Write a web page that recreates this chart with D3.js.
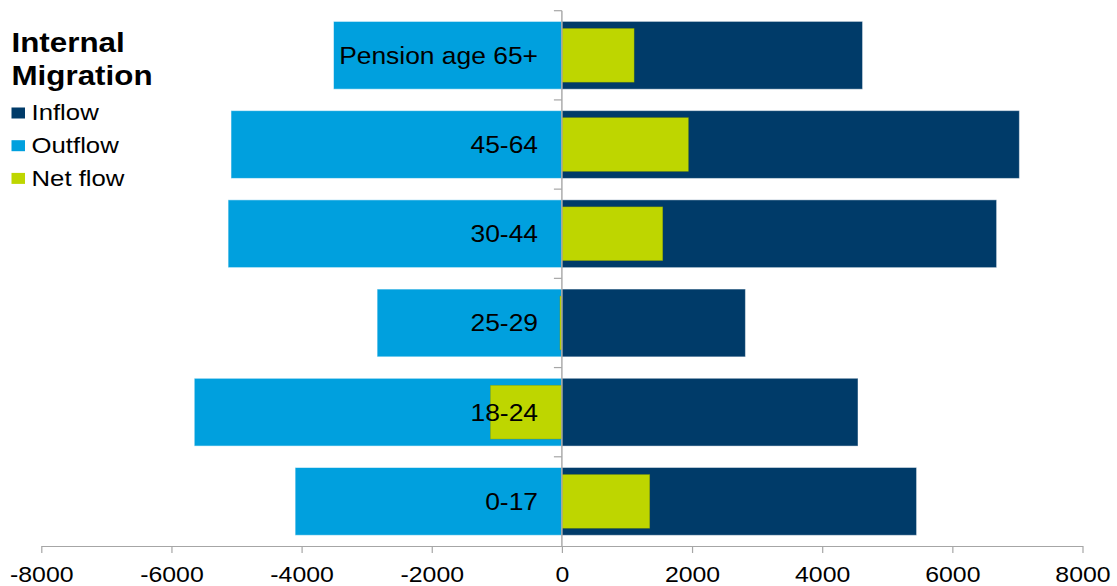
<!DOCTYPE html>
<html>
<head>
<meta charset="utf-8">
<script src="https://cdn.jsdelivr.net/npm/d3@7"></script>
<style>
  html, body { margin: 0; padding: 0; background: #fff; }
  svg { display: block; font-family: "Liberation Sans", Arial, sans-serif; }
</style>
</head>
<body>
<svg id="chart" width="1117" height="586"></svg>
<script>
// ---- Data ----
const categories = ["Pension age 65+", "45-64", "30-44", "25-29", "18-24", "0-17"];
const inflow  = [4620, 7030, 6680, 2820, 4550, 5450];
const outflow = [-3510, -5085, -5130, -2840, -5650, -4100];
const netflow = [1110, 1945, 1550, -30, -1100, 1350];
const xTicks = [-8000, -6000, -4000, -2000, 0, 2000, 4000, 6000, 8000];
const legendTitle = ["Internal", "Migration"];
const seriesNames = ["Inflow", "Outflow", "Net flow"];

const colors = { inflow: "#003B69", outflow: "#00A0DE", net: "#BED600" };
const axisColor = "#A6A6A6";

const svg = d3.select("#chart");

const x = d3.scaleLinear().domain([-8000, 8000]).range([41.3, 1082.5]);
const y = d3.scaleBand().domain(categories).range([10.7, 546])
  .paddingInner(0.24).paddingOuter(0.12);

const rows = categories.map((c, i) => ({ c, inflow: inflow[i], outflow: outflow[i], net: netflow[i] }));

function barX(v) { return Math.min(x(0), x(v)); }
function barW(v) { return Math.abs(x(v) - x(0)); }

const g = svg.append("g");

// Outflow bars
g.selectAll("rect.out").data(rows).join("rect")
  .attr("class", "out")
  .attr("x", d => barX(d.outflow)).attr("width", d => barW(d.outflow))
  .attr("y", d => y(d.c)).attr("height", y.bandwidth())
  .attr("fill", colors.outflow)
  .attr("stroke", "rgba(255,255,255,0.55)").attr("stroke-width", 1);

// Inflow bars
g.selectAll("rect.in").data(rows).join("rect")
  .attr("class", "in")
  .attr("x", d => barX(d.inflow)).attr("width", d => barW(d.inflow))
  .attr("y", d => y(d.c)).attr("height", y.bandwidth())
  .attr("fill", colors.inflow)
  .attr("stroke", "rgba(255,255,255,0.45)").attr("stroke-width", 1);

// Net bars (narrower, overlaid)
const inset = 7;
g.selectAll("rect.net").data(rows).join("rect")
  .attr("class", "net")
  .attr("x", d => barX(d.net)).attr("width", d => barW(d.net))
  .attr("y", d => y(d.c) + inset).attr("height", y.bandwidth() - 2 * inset)
  .attr("fill", colors.net)
  .attr("stroke", "rgba(120,140,0,0.5)").attr("stroke-width", 0.6);

// Bottom axis
const xAxis = d3.axisBottom(x).tickValues(xTicks).tickSize(7).tickSizeOuter(0).tickFormat(d3.format("d"));
const axG = svg.append("g").attr("transform", "translate(0,546)").call(xAxis);
axG.select(".domain").attr("stroke", axisColor).attr("stroke-width", 1.2);
axG.selectAll(".tick line").attr("stroke", axisColor).attr("stroke-width", 1.2);
axG.selectAll(".tick text").remove();
axG.selectAll(".tick").append("text")
  .attr("transform", "translate(0,36) scale(1.13,1)")
  .attr("text-anchor", "middle")
  .attr("fill", "#000")
  .style("font-size", "22px")
  .style("font-family", "'Liberation Sans', Arial, sans-serif")
  .text(d => d);

// Vertical axis at 0 with ticks at category boundaries
const boundaries = categories.map(c => y(c) - y.step() * y.paddingInner() / 2);
boundaries[0] = 10.7;
svg.append("line")
  .attr("x1", x(0)).attr("x2", x(0)).attr("y1", 10.7).attr("y2", 546)
  .attr("stroke", axisColor).attr("stroke-width", 1.4);
svg.selectAll("line.vt").data(boundaries).join("line")
  .attr("class", "vt")
  .attr("x1", x(0) - 8).attr("x2", x(0)).attr("y1", d => d).attr("y2", d => d)
  .attr("stroke", axisColor).attr("stroke-width", 1.2);

// Category labels
svg.selectAll("text.cat").data(categories).join("text")
  .attr("class", "cat")
  .attr("transform", d => `translate(538,${y(d) + y.bandwidth() / 2 + 8.5}) scale(1.1,1)`)
  .attr("text-anchor", "end")
  .attr("fill", "#000")
  .style("font-size", "24px")
  .text(d => d);

// Legend
const leg = svg.append("g");
leg.selectAll("text.title").data(legendTitle).join("text")
  .attr("class", "title")
  .attr("transform", (d, i) => `translate(11.5,${52 + i * 32.5}) scale(1.12,1)`)
  .style("font-size", "28px").style("font-weight", "bold")
  .attr("fill", "#000")
  .text(d => d);

const legColors = [colors.inflow, colors.outflow, colors.net];
const items = leg.selectAll("g.item").data(seriesNames).join("g")
  .attr("class", "item")
  .attr("transform", (d, i) => `translate(11.5,${107.5 + i * 32.7})`);
items.append("rect")
  .attr("x", 0).attr("y", 0).attr("width", 13.5).attr("height", 11)
  .attr("fill", (d, i) => legColors[i]);
items.append("text")
  .attr("transform", "translate(20,12.8) scale(1.17,1)")
  .style("font-size", "22px")
  .attr("fill", "#000")
  .text(d => d);
</script>
</body>
</html>
